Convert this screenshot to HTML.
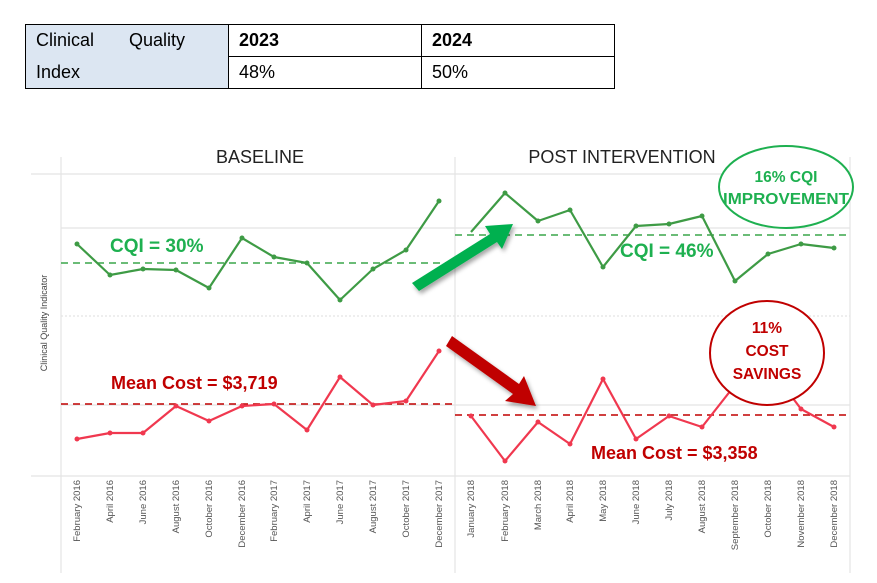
<!DOCTYPE html><html><head><style>
body{margin:0;width:877px;height:583px;background:#fff;font-family:"Liberation Sans",sans-serif;overflow:hidden}
table{position:absolute;left:25px;top:24px;border-collapse:collapse;font-size:18px}
td{border:1.5px solid #000;padding:0 10px;height:31px;width:172px}
</style></head><body>
<table>
<tr><td style="background:#dce6f2;border-bottom:none;width:182px">Clinical&nbsp;&nbsp;&nbsp;&nbsp;&nbsp;&nbsp;&nbsp;Quality</td><td><b>2023</b></td><td style="width:170px"><b>2024</b></td></tr>
<tr><td style="background:#dce6f2;border-top:none">Index</td><td>48%</td><td>50%</td></tr>
</table>
<svg width="877" height="583" style="position:absolute;left:0;top:0">
<defs><filter id="s"><feDropShadow dx="2" dy="3" stdDeviation="2" flood-opacity="0.35"/></filter></defs>
<g stroke="#e4e4e4" stroke-width="1.2">
<line x1="31" y1="174" x2="850" y2="174"/>
<line x1="61" y1="228" x2="850" y2="228"/>
<line x1="61" y1="316" x2="850" y2="316" stroke-dasharray="2,2"/>
<line x1="61" y1="405" x2="850" y2="405"/>
<line x1="31" y1="476" x2="850" y2="476"/>
<line x1="61" y1="157" x2="61" y2="573"/>
<line x1="455" y1="157" x2="455" y2="573"/>
<line x1="850" y1="157" x2="850" y2="573"/>
</g>
<text x="260" y="163" font-size="18" text-anchor="middle" fill="#222">BASELINE</text>
<text x="622" y="163" font-size="18" text-anchor="middle" fill="#222">POST INTERVENTION</text>
<text transform="translate(47,323) rotate(-90)" font-size="9" text-anchor="middle" fill="#444">Clinical Quality Indicator</text>
<g stroke="#3aa64a" stroke-dasharray="7,5" stroke-width="1.5"><line x1="61" y1="263" x2="455" y2="263"/><line x1="455" y1="235" x2="850" y2="235"/></g>
<g stroke="#c00000" stroke-dasharray="7,5" stroke-width="1.5"><line x1="61" y1="404" x2="455" y2="404"/><line x1="455" y1="415" x2="850" y2="415"/></g>
<g fill="none" stroke-width="2.2" stroke-linejoin="round">
<polyline stroke="#3e9b45" points="77,244 110,275 143,269 176,270 209,288 242,238 274,257 307,263 340,300 373,269 406,250 439,201"/>
<polyline stroke="#3e9b45" points="471,232 505,193 538,221 570,210 603,267 636,226 669,224 702,216 735,281 768,254 801,244 834,248"/>
<polyline stroke="#f0384f" points="77,439 110,433 143,433 176,406 209,421 242,406 274,404 307,430 340,377 373,405 406,401 439,351"/>
<polyline stroke="#f0384f" points="471,416 505,461 538,422 570,444 603,379 636,439 669,416 702,427 735,385 768,365 801,409 834,427"/>
</g>
<g fill="#3e9b45"><circle cx="77" cy="244" r="2.5"/><circle cx="110" cy="275" r="2.5"/><circle cx="143" cy="269" r="2.5"/><circle cx="176" cy="270" r="2.5"/><circle cx="209" cy="288" r="2.5"/><circle cx="242" cy="238" r="2.5"/><circle cx="274" cy="257" r="2.5"/><circle cx="307" cy="263" r="2.5"/><circle cx="340" cy="300" r="2.5"/><circle cx="373" cy="269" r="2.5"/><circle cx="406" cy="250" r="2.5"/><circle cx="439" cy="201" r="2.5"/><circle cx="505" cy="193" r="2.5"/><circle cx="538" cy="221" r="2.5"/><circle cx="570" cy="210" r="2.5"/><circle cx="603" cy="267" r="2.5"/><circle cx="636" cy="226" r="2.5"/><circle cx="669" cy="224" r="2.5"/><circle cx="702" cy="216" r="2.5"/><circle cx="735" cy="281" r="2.5"/><circle cx="768" cy="254" r="2.5"/><circle cx="801" cy="244" r="2.5"/><circle cx="834" cy="248" r="2.5"/></g>
<g fill="#f0384f"><circle cx="77" cy="439" r="2.5"/><circle cx="110" cy="433" r="2.5"/><circle cx="143" cy="433" r="2.5"/><circle cx="176" cy="406" r="2.5"/><circle cx="209" cy="421" r="2.5"/><circle cx="242" cy="406" r="2.5"/><circle cx="274" cy="404" r="2.5"/><circle cx="307" cy="430" r="2.5"/><circle cx="340" cy="377" r="2.5"/><circle cx="373" cy="405" r="2.5"/><circle cx="406" cy="401" r="2.5"/><circle cx="439" cy="351" r="2.5"/><circle cx="471" cy="416" r="2.5"/><circle cx="505" cy="461" r="2.5"/><circle cx="538" cy="422" r="2.5"/><circle cx="570" cy="444" r="2.5"/><circle cx="603" cy="379" r="2.5"/><circle cx="636" cy="439" r="2.5"/><circle cx="669" cy="416" r="2.5"/><circle cx="702" cy="427" r="2.5"/><circle cx="801" cy="409" r="2.5"/><circle cx="834" cy="427" r="2.5"/></g>
<text x="110" y="252" font-size="19" font-weight="bold" fill="#1eb050">CQI = 30%</text>
<text x="620" y="257" font-size="19" font-weight="bold" fill="#1eb050">CQI = 46%</text>
<text x="111" y="389" font-size="18" font-weight="bold" fill="#c00000">Mean Cost = $3,719</text>
<text x="591" y="459" font-size="18" font-weight="bold" fill="#c00000">Mean Cost = $3,358</text>
<ellipse cx="786" cy="187" rx="67" ry="41" fill="#fff" stroke="#1eb050" stroke-width="2"/>
<text x="786" y="182" font-size="15.5" font-weight="bold" fill="#1eb050" text-anchor="middle">16% CQI</text>
<text x="786" y="204" font-size="15.5" font-weight="bold" fill="#1eb050" text-anchor="middle" textLength="126" lengthAdjust="spacingAndGlyphs">IMPROVEMENT</text>
<ellipse cx="767" cy="353" rx="57" ry="52" fill="#fff" stroke="#c00000" stroke-width="2"/>
<text x="767" y="333" font-size="15.5" font-weight="bold" fill="#c00000" text-anchor="middle">11%</text>
<text x="767" y="356" font-size="15.5" font-weight="bold" fill="#c00000" text-anchor="middle">COST</text>
<text x="767" y="379" font-size="15.5" font-weight="bold" fill="#c00000" text-anchor="middle">SAVINGS</text>
<g filter="url(#s)">
<polygon fill="#00b050" points="412,283 490,234 485,226 513,224 502,249 497,242 419,291"/>
<polygon fill="#c00000" points="452,336 519,384 524,376 536,406 505,401 513,394 446,346"/>
</g>
<g font-size="9.5" fill="#555" text-anchor="end">
<text transform="translate(80,480) rotate(-90)">February 2016</text>
<text transform="translate(113,480) rotate(-90)">April 2016</text>
<text transform="translate(146,480) rotate(-90)">June 2016</text>
<text transform="translate(179,480) rotate(-90)">August 2016</text>
<text transform="translate(212,480) rotate(-90)">October 2016</text>
<text transform="translate(245,480) rotate(-90)">December 2016</text>
<text transform="translate(277,480) rotate(-90)">February 2017</text>
<text transform="translate(310,480) rotate(-90)">April 2017</text>
<text transform="translate(343,480) rotate(-90)">June 2017</text>
<text transform="translate(376,480) rotate(-90)">August 2017</text>
<text transform="translate(409,480) rotate(-90)">October 2017</text>
<text transform="translate(442,480) rotate(-90)">December 2017</text>
<text transform="translate(474,480) rotate(-90)">January 2018</text>
<text transform="translate(508,480) rotate(-90)">February 2018</text>
<text transform="translate(541,480) rotate(-90)">March 2018</text>
<text transform="translate(573,480) rotate(-90)">April 2018</text>
<text transform="translate(606,480) rotate(-90)">May 2018</text>
<text transform="translate(639,480) rotate(-90)">June 2018</text>
<text transform="translate(672,480) rotate(-90)">July 2018</text>
<text transform="translate(705,480) rotate(-90)">August 2018</text>
<text transform="translate(738,480) rotate(-90)">September 2018</text>
<text transform="translate(771,480) rotate(-90)">October 2018</text>
<text transform="translate(804,480) rotate(-90)">November 2018</text>
<text transform="translate(837,480) rotate(-90)">December 2018</text>
</g>
</svg>
</body></html>
